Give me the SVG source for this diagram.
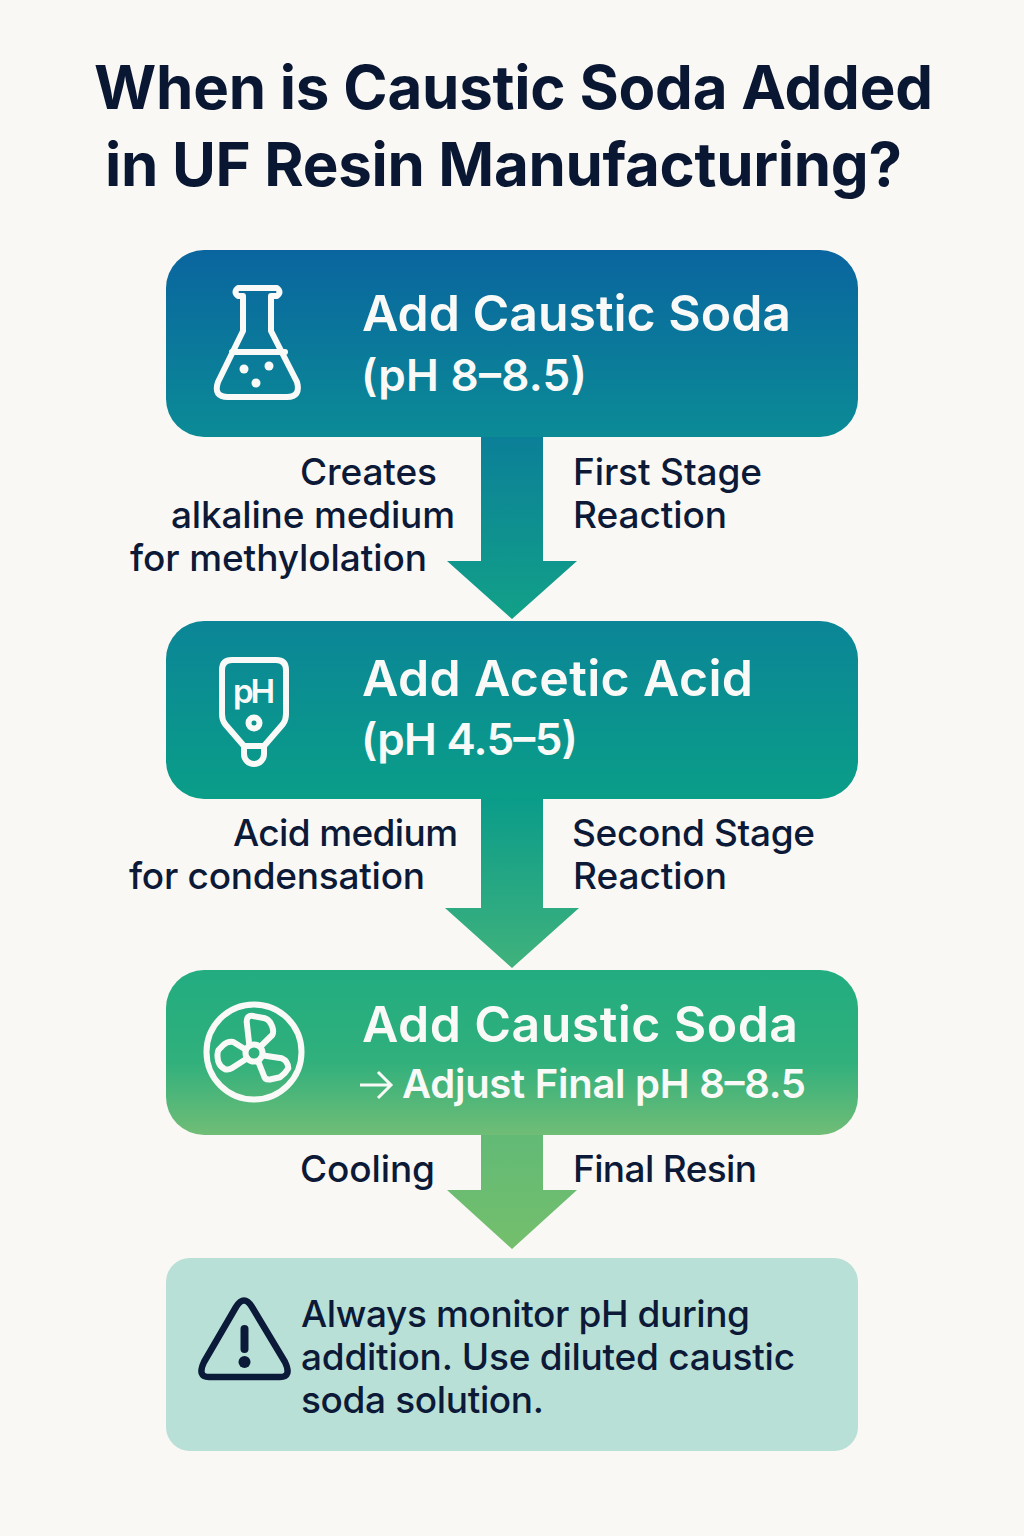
<svg xmlns="http://www.w3.org/2000/svg" width="1024" height="1536" viewBox="0 0 1024 1536">
<style>
text{font-family:"Inter","Liberation Sans",sans-serif;}
.title{font-size:60px;font-weight:700;fill:#0a1733}
.h{font-size:50px;font-weight:600;fill:#f9faf7}
.s{font-size:44px;font-weight:600;fill:#f9faf7}
.l{font-size:37px;font-weight:500;fill:#0c1a38}
.n{font-size:37px;font-weight:450;fill:#0c1a38}
.ic{fill:none;stroke:#f9faf7;stroke-width:6;stroke-linejoin:round;stroke-linecap:round}
</style>
<defs>
<linearGradient id="gn1" x1="0" y1="0" x2="0" y2="1"><stop offset="0" stop-color="#0a659f"/><stop offset="1" stop-color="#0b8b96"/></linearGradient>
<linearGradient id="gn2" x1="0" y1="0" x2="0" y2="1"><stop offset="0" stop-color="#0b8597"/><stop offset="1" stop-color="#0a9e88"/></linearGradient>
<linearGradient id="gn3" x1="0" y1="0" x2="0" y2="1"><stop offset="0" stop-color="#22ac80"/><stop offset="0.55" stop-color="#30b07c"/><stop offset="1" stop-color="#70bd76"/></linearGradient>
<linearGradient id="ga1" x1="0" y1="0" x2="0" y2="1"><stop offset="0" stop-color="#0b7f98"/><stop offset="1" stop-color="#12a188"/></linearGradient>
<linearGradient id="ga2" x1="0" y1="0" x2="0" y2="1"><stop offset="0" stop-color="#0a9c8a"/><stop offset="1" stop-color="#40b27c"/></linearGradient>
<linearGradient id="ga3" x1="0" y1="0" x2="0" y2="1"><stop offset="0" stop-color="#62ba76"/><stop offset="1" stop-color="#74bf6c"/></linearGradient>
</defs>
<rect width="1024" height="1536" fill="#faf8f4"/>
<g id="title">
<text class="title" x="94" y="109" textLength="839">When is Caustic Soda Added</text>
<text class="title" x="105" y="186" textLength="797">in UF Resin Manufacturing?</text>
</g>
<g id="connectors">
<path fill="url(#ga1)" d="M481 436H543V561H577L512 619L447 561H481Z"/>
<path fill="url(#ga2)" d="M481 798H543V908H579L512 968L445 908H481Z"/>
<path fill="url(#ga3)" d="M481 1134H543V1190H577L512 1249L447 1190H481Z"/>
</g>
<g id="node1">
<rect fill="url(#gn1)" x="166" y="250" width="692" height="187" rx="38"/>
<path class="ic" d="M243 296H238Q233 292 238 288H277Q282 292 277 296H271V331L297 382Q301 397 287 397H228Q213 397 218 382L243 331Z"/>
<path class="ic" d="M232 352H285"/>
<g fill="#f9faf7"><circle cx="244" cy="369" r="4.500"/><circle cx="269" cy="366" r="4.500"/><circle cx="256" cy="383" r="4.500"/></g>
<text class="h" x="362" y="331" textLength="429">Add Caustic Soda</text>
<text class="s" x="361" y="391" textLength="226">(pH 8–8.5)</text>
</g>
<g id="label1">
<text class="l" x="300" y="485" textLength="137">Creates</text>
<text class="l" x="171" y="528" textLength="284">alkaline medium</text>
<text class="l" x="130" y="571" textLength="297">for methylolation</text>
<text class="l" x="573" y="485" textLength="189">First Stage</text>
<text class="l" x="573" y="528" textLength="154">Reaction</text>
</g>
<g id="node2">
<rect fill="url(#gn2)" x="166" y="621" width="692" height="178" rx="38"/>
<path class="ic" d="M232 660H276Q286 660 286 670V714Q286 720 283 724L264 746H244L225 724Q222 720 222 714V670Q222 660 232 660Z"/>
<path class="ic" d="M244 746V754A10 10 0 0 0 264 754V746"/>
<circle class="ic" cx="254" cy="723" r="5.500" stroke-width="4"/>
<text x="254" y="703" text-anchor="middle" font-size="33" font-weight="600" fill="#f9faf7" textLength="42">pH</text>
<text class="h" x="362" y="696" textLength="391">Add Acetic Acid</text>
<text class="s" x="361" y="755" textLength="217">(pH 4.5–5)</text>
</g>
<g id="label2">
<text class="l" x="233" y="846" textLength="225">Acid medium</text>
<text class="l" x="129" y="889" textLength="296">for condensation</text>
<text class="l" x="572" y="846" textLength="243">Second Stage</text>
<text class="l" x="573" y="889" textLength="154">Reaction</text>
</g>
<g id="node3">
<rect fill="url(#gn3)" x="166" y="970" width="692" height="165" rx="38"/>
<circle class="ic" cx="254" cy="1052" r="47.500" stroke-width="5"/>
<circle class="ic" cx="254" cy="1053" r="8.500" stroke-width="4.500"/>
<path class="ic" stroke-width="4.500" d="M249.300 1045L246.700 1022Q246.500 1015 253 1016L265 1018.300Q270 1020 272.300 1026.700Q274 1032 272.300 1035L261 1046"/>
<path class="ic" stroke-width="4.500" d="M245 1049.300L233.300 1042Q228 1041 223.300 1045L218.500 1050Q216.500 1054 218.300 1061.700Q220 1067 225 1069.300Q229 1070 231.700 1068.300L247.300 1058.300"/>
<path class="ic" stroke-width="4.500" d="M258.300 1061.700L264 1076Q265 1080 270 1079.500L280 1077.300Q285 1074 288.300 1068.300Q288 1061 281.700 1058.300L265 1055.700"/>
<text class="h" x="362" y="1042" textLength="436">Add Caustic Soda</text>
<path d="M360 1085H390M378 1072L391 1085L378 1098" fill="none" stroke="#f9faf7" stroke-width="3"/>
<text class="s" x="402" y="1098" style="font-size:40px" textLength="404">Adjust Final pH 8–8.5</text>
</g>
<g id="label3">
<text class="l" x="300" y="1182" textLength="135">Cooling</text>
<text class="l" x="573" y="1182" textLength="184">Final Resin</text>
</g>
<g id="note">
<rect x="166" y="1258" width="692" height="193" rx="24" fill="#b9e0d6"/>
<path d="M236 1307Q244 1294 252 1307L285 1362Q292 1377 280 1377H209Q197 1377 204 1362Z" fill="none" stroke="#0b1a38" stroke-width="6.500" stroke-linejoin="round"/>
<path d="M244.500 1329V1349" fill="none" stroke="#0b1a38" stroke-width="8" stroke-linecap="round"/>
<circle cx="244.500" cy="1362" r="6" fill="#0b1a38"/>
<text class="n" x="301" y="1327" textLength="449">Always monitor pH during</text>
<text class="n" x="301" y="1370" textLength="494">addition. Use diluted caustic</text>
<text class="n" x="301" y="1413" textLength="243">soda solution.</text>
</g>
</svg>
